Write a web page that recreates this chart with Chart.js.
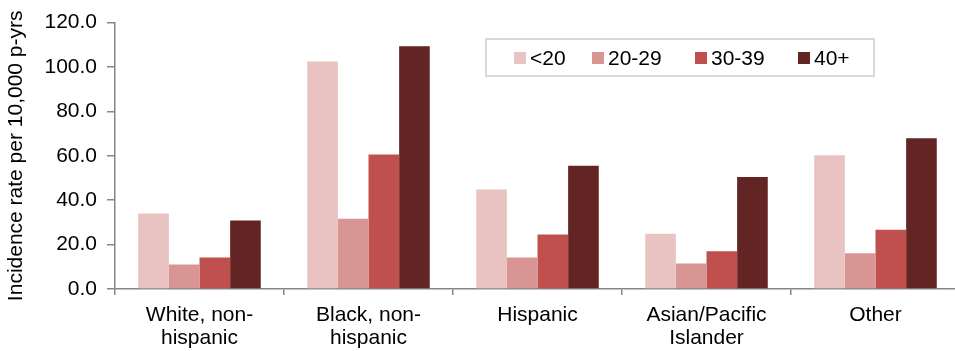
<!DOCTYPE html>
<html>
<head>
<meta charset="utf-8">
<script src="https://cdn.jsdelivr.net/npm/chart.js@4"></script>
<style>
  html, body { margin: 0; padding: 0; background: #fff; overflow: hidden; }
  #wrap { position: relative; width: 962px; height: 351px; }
  #legend {
    position: absolute; left: 485px; top: 38px; width: 386px; height: 35px;
    border: 2px solid #d9d9d9; display: flex; align-items: center;
    font-family: "Liberation Sans", Arial, sans-serif; font-size: 21px; color: #000;
  }
  .item { display: flex; align-items: center; position: absolute; top: 6px; }
  .box { width: 12px; height: 12px; margin-right: 4px; }
</style>
</head>
<body>
<div id="wrap">
  <canvas id="chart" width="962" height="351"></canvas>
  <div id="legend"></div>
</div>
<script>
// chart data
const categories = [["White, non-", "hispanic"], ["Black, non-", "hispanic"], "Hispanic", ["Asian/Pacific", "Islander"], "Other"];
const ageGroups = ["<20", "20-29", "30-39", "40+"];
const under20 = [34.0, 102.5, 44.8, 24.9, 60.3];
const age20to29 = [11.0, 31.7, 14.2, 11.5, 16.1];
const age30to39 = [14.2, 60.6, 24.6, 17.0, 26.7];
const age40plus = [30.8, 109.4, 55.5, 50.5, 67.9];
const yMax = 120;
const yStep = 20;

const colors = ["#e8c3c2", "#d99594", "#c0504d", "#632523"];
const seriesData = [under20, age20to29, age30to39, age40plus];
const axisColor = "#868686";
const font = "'Liberation Sans', Arial, sans-serif";

const datasets = ageGroups.map((name, i) => ({
    label: name,
    data: seriesData[i],
    backgroundColor: colors[i],
    borderWidth: 0,
    categoryPercentage: 0.725,
    barPercentage: 1
}));

new Chart(document.getElementById("chart").getContext("2d"), {
    type: "bar",
    data: { labels: categories, datasets: datasets },
    options: {
        responsive: false,
        animation: false,
        layout: { padding: { top: 21, right: 2, left: 0, bottom: 0 } },
        plugins: { legend: { display: false }, tooltip: { enabled: false } },
        scales: {
            x: {
                grid: { drawOnChartArea: false, drawTicks: true, tickLength: 6, color: axisColor, lineWidth: 1.5 },
                border: { color: axisColor, width: 1.5 },
                ticks: { color: "#000", font: { family: font, size: 21, lineHeight: 1.1 }, padding: 9, maxRotation: 0, autoSkip: false },
                afterFit: s => { s.height = 62; }
            },
            y: {
                min: 0,
                max: yMax,
                grid: { drawOnChartArea: false, drawTicks: true, tickLength: 8, color: axisColor, lineWidth: 1.5 },
                border: { color: axisColor, width: 1.5 },
                ticks: { stepSize: yStep, color: "#000", font: { family: font, size: 21 }, padding: 10, callback: v => v.toFixed(1) },
                title: { display: true, text: "Incidence rate per 10,000 p-yrs", color: "#000", font: { family: font, size: 21 }, padding: { top: 4, bottom: 0 } },
                afterFit: s => { s.width = 115; }
            }
        }
    }
});

// html legend
const legend = document.getElementById("legend");
const itemLeft = [27, 105, 208, 311];
ageGroups.forEach((name, i) => {
    const item = document.createElement("div");
    item.className = "item";
    item.style.left = itemLeft[i] + "px";
    const box = document.createElement("span");
    box.className = "box";
    box.style.background = colors[i];
    const txt = document.createElement("span");
    txt.textContent = name;
    item.appendChild(box);
    item.appendChild(txt);
    legend.appendChild(item);
});
</script>
</body>
</html>
